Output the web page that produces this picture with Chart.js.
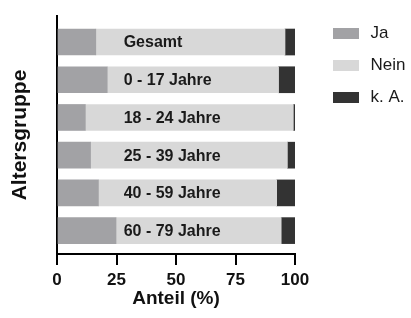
<!DOCTYPE html>
<html><head><meta charset="utf-8">
<script src="https://cdn.jsdelivr.net/npm/chart.js@4"></script>
<style>html,body{margin:0;padding:0;background:#fff}#wrap{width:411px;height:318px}</style>
</head><body><div id="wrap"><canvas id="c" width="411" height="318"></canvas></div>
<script>
// ---- data ----
const categories = ['Gesamt', '0 - 17 Jahre', '18 - 24 Jahre', '25 - 39 Jahre', '40 - 59 Jahre', '60 - 79 Jahre'];
const seriesNames = ['Ja', 'Nein', 'k. A.'];
const ja = [16.3, 21.1, 11.9, 14.1, 17.4, 24.8];
const nein = [79.5, 72.0, 87.4, 82.7, 74.9, 69.4];
const keineAngabe = [4.2, 6.9, 0.7, 3.2, 7.7, 5.8];
const xTicks = [0, 25, 50, 75, 100];
const xTitle = 'Anteil (%)';
const yTitle = 'Altersgruppe';

// ---- styling ----
const FONT = '"Liberation Sans", Arial, Helvetica, sans-serif';
const colors = ['#a2a2a5', '#d8d8d8', '#333333'];
const labelStart = 28; // x-value where the in-bar category names start

const toPoints = arr => arr.map((v, i) => ({x: v, y: i}));
const seriesValues = [ja, nein, keineAngabe];

const inBarLabels = {
  id: 'inBarLabels',
  afterDatasetsDraw(chart) {
    const {ctx, scales: {x, y}} = chart;
    ctx.save();
    ctx.font = 'bold 16px ' + FONT;
    ctx.fillStyle = '#1a1a1a';
    ctx.textBaseline = 'middle';
    ctx.textAlign = 'left';
    categories.forEach((c, i) => ctx.fillText(c, x.getPixelForValue(labelStart), y.getPixelForValue(i) + 1));
    ctx.restore();
  }
};

const legendPlace = {
  id: 'legendPlace',
  afterInit(chart) {
    const lg = chart.legend;
    const f = lg.fit.bind(lg);
    lg.fit = function () { f(); this.width = 116; };
  },
  afterLayout(chart) {
    const lg = chart.legend;
    const pad = lg.options.labels.padding;
    lg.left = chart.chartArea.right + 35 - pad;
    lg.right = lg.left + lg.width;
    lg.top = 10;
    lg.bottom = 318;
  }
};

new Chart(document.getElementById('c'), {
  type: 'bar',
  data: {
    datasets: seriesNames.map((name, k) => ({
      label: name,
      data: toPoints(seriesValues[k]),
      backgroundColor: colors[k],
      borderWidth: 0,
      barThickness: 26
    }))
  },
  options: {
    indexAxis: 'y',
    responsive: false,
    animation: false,
    devicePixelRatio: 1,
    layout: {padding: {top: 16, left: 0, right: 0, bottom: 0}},
    plugins: {
      tooltip: {enabled: false},
      legend: {
        position: 'right',
        align: 'start',
        labels: {
          boxWidth: 32,
          boxHeight: 17,
          padding: 15,
          color: '#1a1a1a',
          font: {family: FONT, size: 17},
          generateLabels(chart) {
            const items = Chart.defaults.plugins.legend.labels.generateLabels(chart);
            items.forEach(it => { it.lineWidth = 6; it.strokeStyle = '#ffffff'; });
            return items;
          }
        }
      }
    },
    scales: {
      x: {
        type: 'linear',
        stacked: true,
        min: 0,
        max: 100,
        afterBuildTicks: s => { s.ticks = xTicks.map(v => ({value: v})); },
        afterFit: s => { s.height = 64; },
        grid: {drawOnChartArea: false, drawTicks: true, tickLength: 11, lineWidth: 2, color: '#000'},
        border: {display: true, width: 2, color: '#000'},
        ticks: {color: '#111', padding: 5, font: {family: FONT, size: 17, weight: 'bold'}},
        title: {display: true, text: xTitle, color: '#111', padding: {top: 0, bottom: 8}, font: {family: FONT, size: 19, weight: 'bold'}}
      },
      y: {
        type: 'linear',
        stacked: true,
        reverse: true,
        offset: false,
        min: -0.69,
        max: 5.62,
        afterFit: s => { s.width = 57; },
        grid: {display: false, offset: false},
        border: {display: true, width: 2, color: '#000'},
        ticks: {display: false},
        title: {display: true, text: yTitle, color: '#111', padding: {top: 8, bottom: 0}, font: {family: FONT, size: 21, weight: 'bold'}}
      }
    }
  },
  plugins: [inBarLabels, legendPlace]
});
</script>
</body></html>
